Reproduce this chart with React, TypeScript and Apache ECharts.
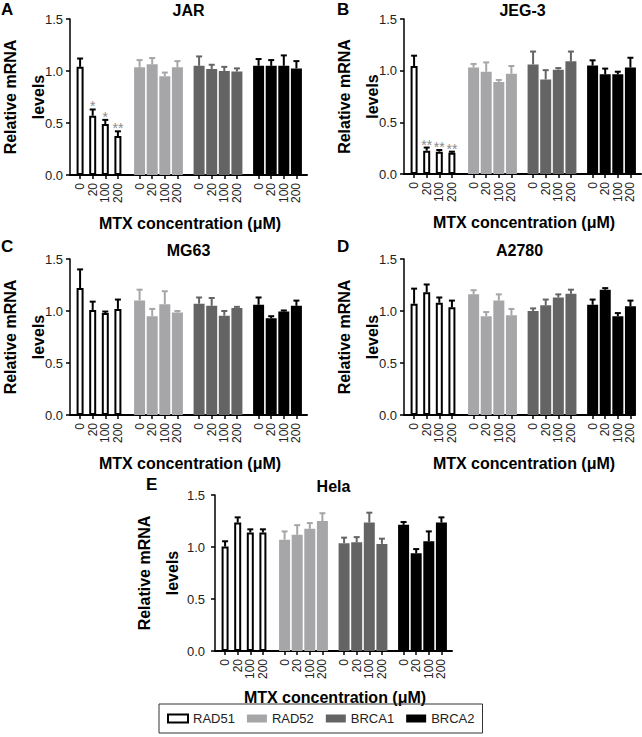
import React, { useEffect, useRef } from 'react';
import * as echarts from 'echarts';

const DOSES = ['0', '20', '100', '200'];
const GENES = ['RAD51', 'RAD52', 'BRCA1', 'BRCA2'];
const PANEL_TITLES = ['JAR', 'JEG-3', 'MG63', 'A2780', 'Hela'];
const PANEL_LETTERS = ['A', 'B', 'C', 'D', 'E'];
const Y_TICKS = [0, 0.5, 1.0, 1.5];
const X_NAME = 'MTX concentration (μM)';
const Y_NAME = 'Relative mRNA\nlevels';

// values ordered RAD51(0,20,100,200), RAD52(...), BRCA1(...), BRCA2(...)
const JAR_MEAN = [1.04, 0.57, 0.49, 0.375, 1.035, 1.065, 0.95, 1.035, 1.05, 1.02, 1.0, 0.995, 1.05, 1.05, 1.05, 1.025];
const JAR_ERR = [0.08, 0.06, 0.04, 0.045, 0.07, 0.06, 0.035, 0.06, 0.09, 0.04, 0.04, 0.03, 0.065, 0.055, 0.1, 0.07];
const JAR_SIG = ['', '*', '*', '**', '', '', '', '', '', '', '', '', '', '', '', ''];

const JEG3_MEAN = [1.045, 0.226, 0.216, 0.206, 1.03, 0.99, 0.89, 0.97, 1.06, 0.915, 1.01, 1.09, 1.05, 0.965, 0.965, 1.03];
const JEG3_ERR = [0.1, 0.03, 0.016, 0.01, 0.035, 0.09, 0.02, 0.075, 0.125, 0.09, 0.015, 0.095, 0.05, 0.055, 0.025, 0.095];
const JEG3_SIG = ['', '**', '**', '**', '', '', '', '', '', '', '', '', '', '', '', ''];

const MG63_MEAN = [1.22, 1.01, 0.98, 1.02, 1.1, 0.95, 1.065, 0.985, 1.07, 1.05, 0.955, 1.03, 1.06, 0.93, 0.995, 1.05];
const MG63_ERR = [0.18, 0.08, 0.015, 0.09, 0.105, 0.07, 0.125, 0.015, 0.06, 0.075, 0.045, 0.01, 0.07, 0.02, 0.01, 0.05];
const MG63_SIG = ['', '', '', '', '', '', '', '', '', '', '', '', '', '', '', ''];

const A2780_MEAN = [1.07, 1.18, 1.08, 1.035, 1.16, 0.95, 1.1, 0.96, 1.0, 1.055, 1.13, 1.165, 1.06, 1.205, 0.95, 1.045];
const A2780_ERR = [0.145, 0.075, 0.05, 0.065, 0.04, 0.04, 0.06, 0.06, 0.025, 0.055, 0.03, 0.04, 0.05, 0.015, 0.03, 0.055];
const A2780_SIG = ['', '', '', '', '', '', '', '', '', '', '', '', '', '', '', ''];

const HELA_MEAN = [1.005, 1.235, 1.14, 1.14, 1.07, 1.117, 1.175, 1.25, 1.037, 1.045, 1.235, 1.03, 1.213, 0.94, 1.055, 1.235];
const HELA_ERR = [0.05, 0.05, 0.03, 0.03, 0.08, 0.093, 0.055, 0.075, 0.053, 0.05, 0.095, 0.05, 0.027, 0.04, 0.095, 0.05];
const HELA_SIG = ['', '', '', '', '', '', '', '', '', '', '', '', '', '', '', ''];

const PANEL_MEANS = [JAR_MEAN, JEG3_MEAN, MG63_MEAN, A2780_MEAN, HELA_MEAN];
const PANEL_ERRS = [JAR_ERR, JEG3_ERR, MG63_ERR, A2780_ERR, HELA_ERR];
const PANEL_SIGS = [JAR_SIG, JEG3_SIG, MG63_SIG, A2780_SIG, HELA_SIG];

// ---- layout / style (not data) ----
const GRIDS = [
  { left: 70, top: 19, width: 237, height: 156 },
  { left: 404, top: 19, width: 237, height: 155 },
  { left: 70, top: 259, width: 237, height: 156 },
  { left: 404, top: 259, width: 231, height: 156 },
  { left: 215, top: 495, width: 237, height: 156 },
];
const Y_NAME_GAP = [18, 18, 18, 18, 29];
const Y_LABEL_MARGIN = [7, 7, 7, 7, 10];
const X_NAME_OFFSET = [48, 48, 48, 48, 46];
const X_MIN = -0.8;
const X_MAX = [18.0, 18.0, 18.0, 17.52, 18.0];
const GROUP_PERIOD = 4.72;
const COLORS = ['#ffffff', '#a6a6a8', '#646464', '#000000'];
const FONT = 'Liberation Sans, Arial, Helvetica, sans-serif';

const POSITIONS: number[] = [];
for (let g = 0; g < GENES.length; g++) {
  for (let i = 0; i < DOSES.length; i++) POSITIONS.push(g * GROUP_PERIOD + i);
}
const EDGE = ['#000000', COLORS[1], COLORS[2], COLORS[3]];

function doseLabel(v: number) {
  const idx = POSITIONS.findIndex((p) => Math.abs(p - v) < 1e-6);
  return idx < 0 ? '' : DOSES[idx % DOSES.length];
}

export default function App() {
  const ref = useRef<HTMLDivElement>(null);

  useEffect(() => {
    if (!ref.current) return;
    const chart = echarts.init(ref.current, undefined, { renderer: 'svg' });

    const xAxis: any[] = [];
    const yAxis: any[] = [];
    const series: any[] = [];
    const graphic: any[] = [];

    GRIDS.forEach((gr, p) => {
      xAxis.push({
        type: 'value',
        gridIndex: p,
        min: X_MIN,
        max: X_MAX[p],
        splitLine: { show: false },
        axisLine: { show: true, onZero: false, lineStyle: { color: '#000', width: 2 } },
        axisTick: { show: true, customValues: POSITIONS, length: 4, lineStyle: { color: '#000', width: 1.5 } },
        axisLabel: {
          show: true,
          customValues: POSITIONS,
          showMinLabel: true,
          showMaxLabel: true,
          hideOverlap: false,
          rotate: 90,
          margin: 8,
          fontSize: 12,
          lineHeight: 10,
          color: '#222',
          fontFamily: FONT,
          formatter: (v: number) => doseLabel(v),
        },
      });
      xAxis.push({
        type: 'value',
        gridIndex: p,
        min: X_MIN,
        max: X_MAX[p],
        show: false,
        splitLine: { show: false },
      });
      yAxis.push({
        type: 'value',
        gridIndex: p,
        min: 0,
        max: 1.5,
        interval: 0.5,
        splitLine: { show: false },
        axisLine: { show: true, onZero: false, lineStyle: { color: '#000', width: 1.5 } },
        axisTick: { show: true, length: 4, lineStyle: { color: '#000', width: 1.5 } },
        axisLabel: {
          margin: Y_LABEL_MARGIN[p],
          fontSize: 13,
          color: '#222',
          fontFamily: FONT,
          showMinLabel: true,
          showMaxLabel: true,
          formatter: (v: number) => v.toFixed(1),
        },
        name: Y_NAME,
        nameLocation: 'middle',
        nameGap: Y_NAME_GAP[p],
        nameMoveOverlap: false,
        nameTextStyle: { fontSize: 16, fontWeight: 'bold', color: '#000', lineHeight: 28, fontFamily: FONT },
      });

      const means = PANEL_MEANS[p];
      const errs = PANEL_ERRS[p];
      const sigs = PANEL_SIGS[p];

      GENES.forEach((gene, g) => {
        const data = DOSES.map((_, i) => [POSITIONS[g * 4 + i], means[g * 4 + i]]);
        series.push({
          type: 'bar',
          name: gene,
          xAxisIndex: g === 0 ? 2 * p + 1 : 2 * p,
          yAxisIndex: p,
          data,
          barWidth: g === 0 ? 7 : 11,
          barGap: '-100%',
          itemStyle:
            g === 0
              ? { color: '#fff', borderColor: '#000', borderWidth: 2 }
              : { color: COLORS[g] },
          emphasis: { disabled: true },
          z: 2,
        });
      });

      const errData = POSITIONS.map((x, k) => [x, means[k], means[k] + errs[k], Math.floor(k / 4)]);
      series.push({
        type: 'custom',
        name: 'err' + p,
        xAxisIndex: 2 * p,
        yAxisIndex: p,
        data: errData,
        clip: false,
        z: 5,
        renderItem: (params: any, api: any) => {
          const x = api.value(0);
          const m = api.value(1);
          const t = api.value(2);
          const g = api.value(3);
          const [px, py0] = api.coord([x, m]);
          const [, py1] = api.coord([x, t]);
          const color = EDGE[g];
          const children: any[] = [
            { type: 'line', shape: { x1: px, y1: py0, x2: px, y2: py1 }, style: { stroke: color, lineWidth: 2 } },
            { type: 'line', shape: { x1: px - 3, y1: py1, x2: px + 3, y2: py1 }, style: { stroke: color, lineWidth: 2 } },
          ];
          const s = sigs[params.dataIndex];
          if (s) {
            children.push({
              type: 'text',
              x: px,
              y: py1 + 4,
              style: { text: s, fill: '#8a8a8a', fontSize: 14, fontFamily: FONT, align: 'center', verticalAlign: 'bottom' },
            });
          }
          return { type: 'group', children };
        },
      });

      graphic.push({
        type: 'text',
        x: gr.left + gr.width / 2,
        y: gr.top - 9,
        style: {
          text: PANEL_TITLES[p],
          fill: '#000',
          fontSize: 16,
          fontWeight: 'bold',
          fontFamily: FONT,
          align: 'center',
          verticalAlign: 'middle',
        },
      });
      graphic.push({
        type: 'text',
        x: gr.left + 120,
        y: gr.top + gr.height + X_NAME_OFFSET[p],
        style: {
          text: X_NAME,
          fill: '#000',
          fontSize: 16,
          fontWeight: 'bold',
          fontFamily: FONT,
          align: 'center',
          verticalAlign: 'middle',
        },
      });
    });

    const letterPos = [
      [1, 9],
      [337, 9],
      [1, 246],
      [337, 246],
      [146, 484],
    ];
    PANEL_LETTERS.forEach((L, p) => {
      graphic.push({
        type: 'text',
        x: letterPos[p][0],
        y: letterPos[p][1],
        style: { text: L, fill: '#000', fontSize: 17, fontWeight: 'bold', fontFamily: FONT, align: 'left', verticalAlign: 'middle' },
      });
    });

    chart.setOption({
      animation: false,
      backgroundColor: '#fff',
      textStyle: { fontFamily: FONT },
      grid: GRIDS.map((g) => ({ ...g, containLabel: false, outerBoundsMode: 'none' })),
      xAxis,
      yAxis,
      series,
      graphic,
      legend: {
        data: GENES.map((name, g) => ({
          name,
          icon: 'rect',
          itemStyle:
            g === 0
              ? { color: '#fff', borderColor: '#000', borderWidth: 2 }
              : { color: COLORS[g], borderWidth: 0 },
        })),
        left: 159,
        top: 704,
        orient: 'horizontal',
        itemWidth: 20,
        itemHeight: 8,
        itemGap: 12,
        padding: [8, 8, 8, 8],
        borderColor: '#333',
        borderWidth: 1,
        selectedMode: false,
        textStyle: { fontSize: 13, color: '#222', fontFamily: FONT },
      },
    });

    return () => chart.dispose();
  }, []);

  return (
    <div
      ref={ref}
      style={{ position: 'fixed', left: 0, top: 0, width: 642, height: 737, background: '#fff' }}
    />
  );
}
